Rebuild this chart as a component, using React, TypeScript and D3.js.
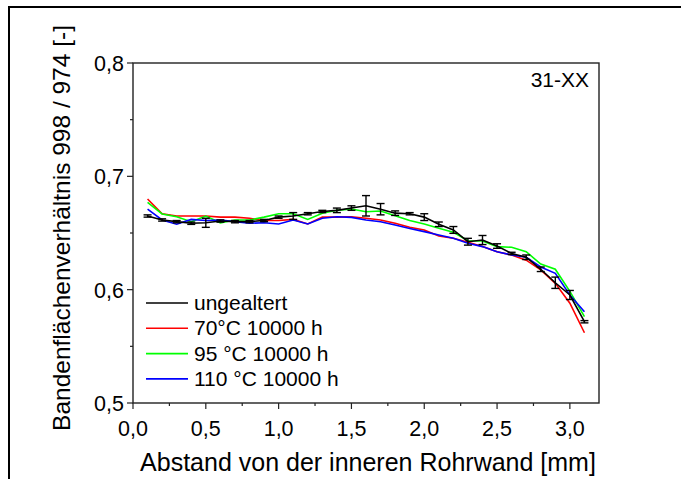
import React from "react";
import * as d3 from "d3";

const xs = [0.1,0.2,0.3,0.4,0.5,0.6,0.7,0.8,0.9,1.0,1.1,1.2,1.3,1.4,1.5,1.6,1.7,1.8,1.9,2.0,2.1,2.2,2.3,2.4,2.5,2.6,2.7,2.8,2.9,3.0,3.1];
const ungealtert = [0.665,0.6615,0.660,0.6586,0.659,0.6606,0.660,0.660,0.661,0.664,0.665,0.667,0.669,0.670,0.672,0.674,0.671,0.6675,0.667,0.664,0.6577,0.6527,0.6423,0.6438,0.6385,0.632,0.6286,0.618,0.6061,0.5953,0.5717];
const ungealtertErr = [0.001,0.001,0.001,0.001,0.004,0.001,0.001,0.001,0.001,0.001,0.003,0.001,0.001,0.002,0.002,0.009,0.005,0.002,0.001,0.003,0.002,0.003,0.003,0.004,0.002,0.001,0.002,0.002,0.005,0.004,0.001];
const c70 = [0.680,0.667,0.665,0.665,0.665,0.664,0.664,0.663,0.661,0.661,0.662,0.658,0.664,0.664,0.6644,0.663,0.6615,0.6586,0.655,0.6527,0.6474,0.6453,0.6418,0.638,0.6335,0.6306,0.626,0.6174,0.6056,0.588,0.562];
const c95 = [0.677,0.6668,0.6644,0.660,0.665,0.659,0.6615,0.6615,0.664,0.667,0.667,0.662,0.6674,0.670,0.6712,0.6688,0.6694,0.6653,0.661,0.658,0.6541,0.6506,0.6432,0.643,0.638,0.6374,0.6335,0.6226,0.618,0.5985,0.5762];
const c110 = [0.671,0.6615,0.6577,0.662,0.661,0.6615,0.660,0.6586,0.659,0.658,0.6615,0.658,0.663,0.6644,0.6638,0.6615,0.660,0.657,0.654,0.6512,0.6483,0.6453,0.641,0.638,0.6335,0.6306,0.6286,0.620,0.6144,0.5953,0.5806];

const seriesNames = ["ungealtert", "70°C 10000 h", "95 °C 10000 h", "110 °C 10000 h"];
const seriesColors = ["#000000", "#ff0000", "#00ff00", "#0000ff"];
const xTicks = [0, 0.5, 1.0, 1.5, 2.0, 2.5, 3.0];
const yTicks = [0.5, 0.6, 0.7, 0.8];

const FONT = "'Liberation Sans', Arial, sans-serif";

export default function App() {
  const W = 681, H = 479;
  const x = d3.scaleLinear().domain([0, 3.2]).range([133, 599]);
  const y = d3.scaleLinear().domain([0.5, 0.8]).range([403, 63]);
  const fmt = (v: number) => v.toFixed(1).replace(".", ",");
  const line = d3.line<number>().x((_, i) => x(xs[i])).y((d) => y(d));
  const data = [ungealtert, c70, c95, c110];
  const drawOrder = [1, 2, 3, 0];
  const xMinor = d3.range(0.25, 3.2, 0.5);
  const yMinor = [0.55, 0.65, 0.75];
  return (
    <svg width={W} height={H} style={{ position: "absolute", left: 0, top: 0 }} fontFamily={FONT}>
      <rect x={0} y={0} width={W} height={H} fill="#fff" />
      <rect x={9} y={7} width={700} height={500} fill="none" stroke="#000" strokeWidth={2} />
      <rect x={x(0)} y={y(0.8)} width={x(3.2) - x(0)} height={y(0.5) - y(0.8)} fill="none" stroke="#222" strokeWidth={1.4} />
      {xTicks.map((t) => (
        <g key={"xt" + t}>
          <line x1={x(t)} x2={x(t)} y1={y(0.5)} y2={y(0.5) + 6} stroke="#222" strokeWidth={1.2} />
          <text x={x(t)} y={y(0.5) + 33} textAnchor="middle" fontSize={21.5}>{fmt(t)}</text>
        </g>
      ))}
      {xMinor.map((t) => (
        <line key={"xm" + t} x1={x(t)} x2={x(t)} y1={y(0.5)} y2={y(0.5) + 3} stroke="#222" strokeWidth={1.2} />
      ))}
      {yTicks.map((t) => (
        <g key={"yt" + t}>
          <line x1={x(0) - 6} x2={x(0)} y1={y(t)} y2={y(t)} stroke="#222" strokeWidth={1.2} />
          <text x={x(0) - 9} y={y(t) + 8} textAnchor="end" fontSize={21.5}>{fmt(t)}</text>
        </g>
      ))}
      {yMinor.map((t) => (
        <line key={"ym" + t} x1={x(0) - 3} x2={x(0)} y1={y(t)} y2={y(t)} stroke="#222" strokeWidth={1.2} />
      ))}
      <text x={368} y={471} textAnchor="middle" fontSize={25}>Abstand von der inneren Rohrwand [mm]</text>
      <text transform={`translate(70,228) rotate(-90)`} textAnchor="middle" fontSize={24.5}>Bandenflächenverhältnis 998 / 974 [-]</text>
      <text x={589} y={87} textAnchor="end" fontSize={21}>31-XX</text>
      {drawOrder.map((k) => (
        <path key={"s" + k} d={line(data[k]) || ""} fill="none" stroke={seriesColors[k]} strokeWidth={1.6} />
      ))}
      {xs.map((xv, i) => {
        const lo = y(ungealtert[i] - ungealtertErr[i]);
        const hi = y(ungealtert[i] + ungealtertErr[i]);
        const cx = x(xv);
        return (
          <g key={"e" + i} stroke="#000" strokeWidth={1.4}>
            <line x1={cx} x2={cx} y1={lo} y2={hi} />
            <line x1={cx - 4} x2={cx + 4} y1={lo} y2={lo} />
            <line x1={cx - 4} x2={cx + 4} y1={hi} y2={hi} />
          </g>
        );
      })}
      {seriesNames.map((n, i) => (
        <g key={"l" + i}>
          <line x1={146} x2={188} y1={303 + i * 25.3} y2={303 + i * 25.3} stroke={seriesColors[i]} strokeWidth={1.6} />
          <text x={194} y={310 + i * 25.3} fontSize={21}>{n}</text>
        </g>
      ))}
    </svg>
  );
}
